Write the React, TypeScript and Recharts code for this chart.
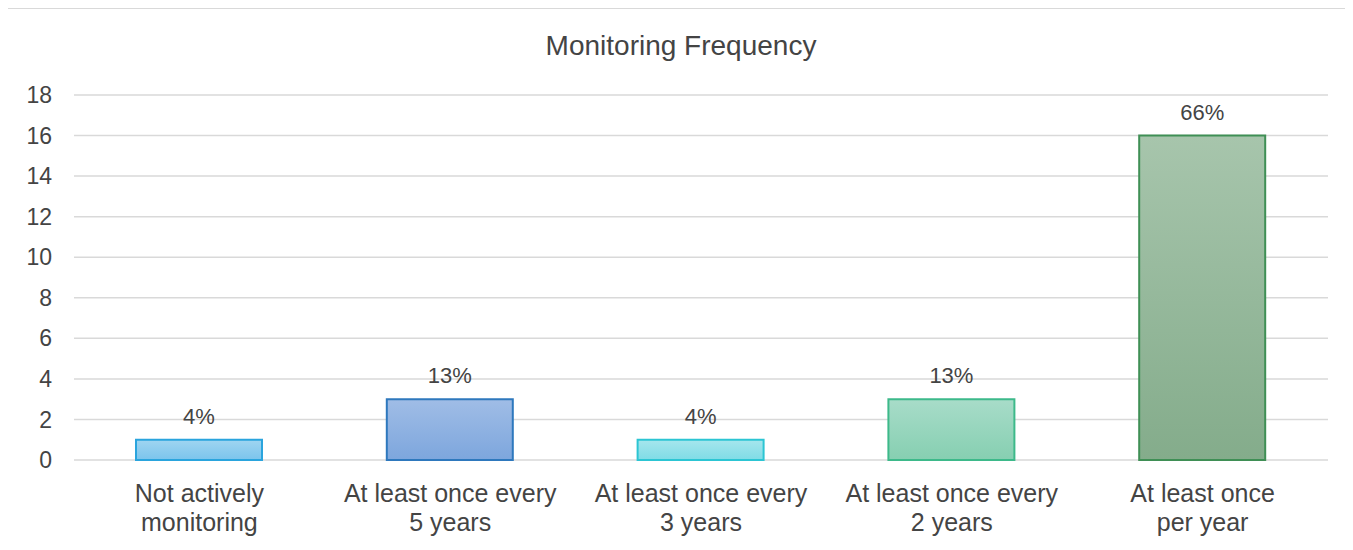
import React from "react";
import { BarChart, Bar, XAxis, YAxis, CartesianGrid, Cell, LabelList } from "recharts";

const categories = [
  "Not actively\nmonitoring",
  "At least once every\n5 years",
  "At least once every\n3 years",
  "At least once every\n2 years",
  "At least once\nper year",
];
const counts = [1, 3, 1, 3, 16];
const percentLabels = ["4%", "13%", "4%", "13%", "66%"];
const yTicks = [0, 2, 4, 6, 8, 10, 12, 14, 16, 18];
const title = "Monitoring Frequency";

const fillTop = ["#a0d5f1", "#a0bde6", "#a6e6ed", "#a8dcc9", "#a7c5ac"];
const fillBottom = ["#7bc4ec", "#7da6dd", "#7fdce6", "#86cfb1", "#84ac8b"];
const strokes = ["#2aa4dd", "#2e78bd", "#2cc5d3", "#3db98a", "#3f8f55"];

const data = categories.map((c, i) => ({ name: c, value: counts[i], label: percentLabels[i] }));

const FONT = "'Liberation Sans', Arial, sans-serif";
const TEXT = "#444444";

const XTick = (props: any) => {
  const { x, y, payload } = props;
  const lines = String(payload.value).split("\n");
  return (
    <text
      x={x}
      y={y + 42}
      textAnchor="middle"
      fill={TEXT}
      fontSize={25}
      fontFamily={FONT}
    >
      {lines.map((l: string, i: number) => (
        <tspan key={i} x={x} dy={i === 0 ? 0 : 29}>
          {l}
        </tspan>
      ))}
    </text>
  );
};

const TopLabel = (props: any) => {
  const { x, y, width, value } = props;
  return (
    <text
      x={x + width / 2}
      y={y - 16}
      textAnchor="middle"
      fill={TEXT}
      fontSize={22}
      fontFamily={FONT}
    >
      {value}
    </text>
  );
};

export default function App() {
  return (
    <div
      style={{
        position: "relative",
        width: 1346,
        height: 542,
        marginLeft: -1,
        borderTop: "1px solid #d9d9d9",
        borderLeft: "1px solid #d9d9d9",
        boxSizing: "border-box",
        fontFamily: FONT,
      }}
    >
      <svg
        width={1345}
        height={60}
        style={{ position: "absolute", top: 0, left: 0 }}
      >
        <text
          x={673}
          y={46}
          textAnchor="middle"
          fill={TEXT}
          fontSize={28}
          fontFamily={FONT}
        >
          {title}
        </text>
      </svg>
      <BarChart
        width={1345}
        height={541}
        data={data}
        margin={{ top: 86, right: 25, left: 8, bottom: 0 }}
      >
        <defs>
          {fillTop.map((c, i) => (
            <linearGradient key={i} id={`grad${i}`} x1="0" y1="0" x2="0" y2="1">
              <stop offset="0%" stopColor={c} />
              <stop offset="100%" stopColor={fillBottom[i]} />
            </linearGradient>
          ))}
        </defs>
        <CartesianGrid vertical={false} stroke="#d9d9d9" strokeWidth={1.5} />
        <XAxis
          dataKey="name"
          axisLine={false}
          tickLine={false}
          tickSize={0}
          tickMargin={0}
          height={90}
          interval={0}
          tick={<XTick />}
        />
        <YAxis
          domain={[0, 18]}
          ticks={yTicks}
          axisLine={false}
          tickLine={false}
          tickSize={0}
          tickMargin={22}
          width={58}
          tick={{ fill: TEXT, fontSize: 23, fontFamily: FONT }}
          interval={0}
        />
        <Bar dataKey="value" barSize={126} isAnimationActive={false} strokeWidth={2}>
          {data.map((d, i) => (
            <Cell key={i} fill={`url(#grad${i})`} stroke={strokes[i]} />
          ))}
          <LabelList dataKey="label" content={<TopLabel />} />
        </Bar>
      </BarChart>
    </div>
  );
}
